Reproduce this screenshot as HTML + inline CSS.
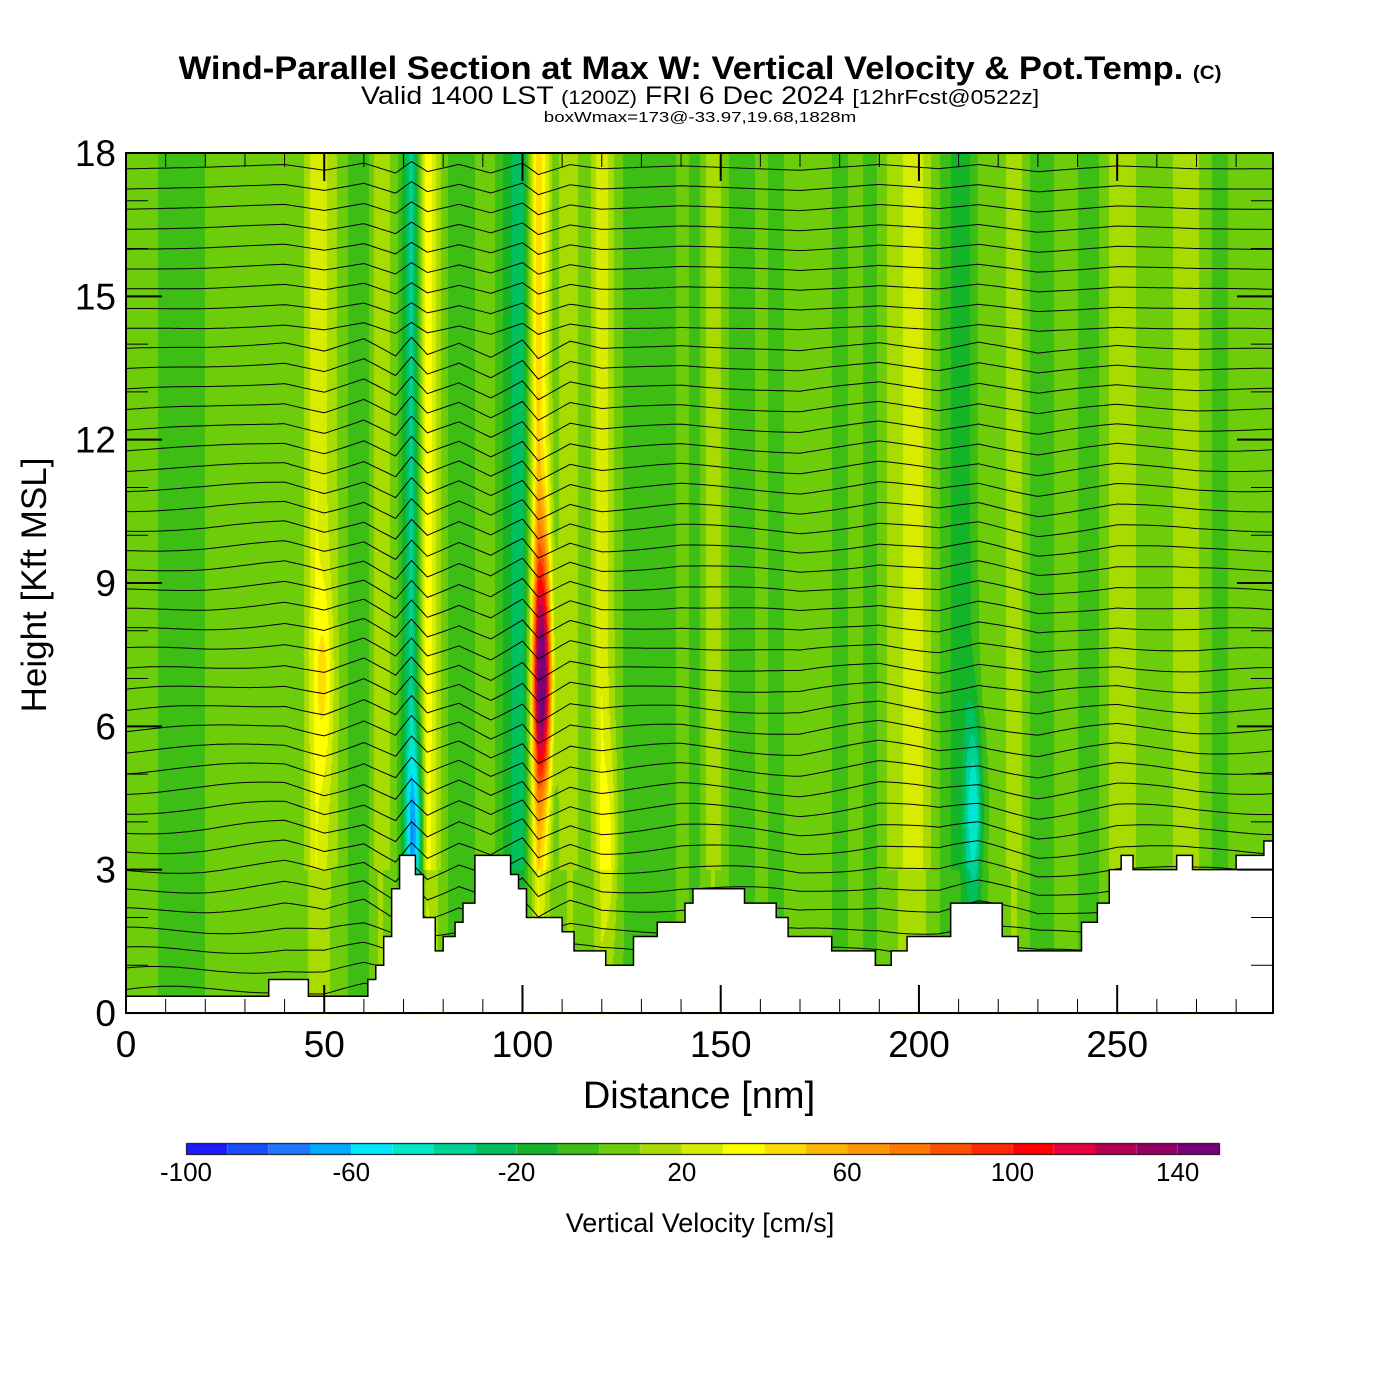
<!DOCTYPE html>
<html><head><meta charset="utf-8"><style>
body{margin:0;background:#fff;width:1400px;height:1400px;overflow:hidden;font-family:"Liberation Sans",sans-serif}
.t{position:absolute;white-space:nowrap;color:#000}
</style></head><body>
<div class="t" style="left:0;width:1400px;text-align:center;top:50px;font-size:32px;font-weight:bold;transform:scaleX(1.08)">Wind-Parallel Section at Max W: Vertical Velocity &amp; Pot.Temp. <span style="font-size:19px">(C)</span></div>
<div class="t" style="left:0;width:1400px;text-align:center;top:82px;font-size:25px;transform:scaleX(1.14)">Valid 1400 LST <span style="font-size:19px">(1200Z)</span> FRI 6 Dec 2024 <span style="font-size:20px">[12hrFcst@0522z]</span></div>
<div class="t" style="left:0;width:1400px;text-align:center;top:109px;font-size:15px;transform:scaleX(1.25)">boxWmax=173@-33.97,19.68,1828m</div>
<canvas id="cv" width="1400" height="1400" style="position:absolute;left:0;top:0"></canvas>
<svg id="sv" width="1400" height="1400" style="position:absolute;left:0;top:0"></svg>
<script>
// distances every 4 nm, 0..288
const stripeW=[5,5,0,-5,-5,0,0,5,0,5,8,5,30,15,0,-10,20,5,-35,40,5,-10,0,5,-15,-30,50,5,20,0,30,5,-10,0,-10,5,-5,20,0,-10,5,-5,5,0,5,-5,5,-5,10,20,25,5,-10,-15,5,0,20,0,-5,5,0,-5,10,20,5,0,10,20,5,-5,5,0,0];
const blobX=[105,105,73,214,50,122];
const blobZ=[6.8,9,3.8,4.2,7,3.5];
const blobAmp=[110,30,-45,-45,20,15];
const terrainX=[0,36,46,61,63,65,67,69,73,75,78,80,83,85,88,97,99,101,110,113,121,128,134,141,143,156,164,167,178,189,193,197,208,221,225,241,245,248,251,254,265,269,280,287,289.3];
const terrainZ=[0.35,0.7,0.35,0.7,1.0,1.6,2.6,3.3,2.9,2.0,1.3,1.6,1.9,2.3,3.3,2.9,2.6,2.0,1.7,1.3,1.0,1.6,1.9,2.3,2.6,2.3,2.0,1.6,1.3,1.0,1.3,1.6,2.3,1.6,1.3,1.9,2.3,3.0,3.3,3.0,3.3,3.0,3.3,3.6,3.6];
const dispX=[0,20,40,50,60,68,72,76,84,92,100,104,112,120,140,170,190,205,215,230,250,270,290];
const dispV=[0,0.05,0.15,-0.05,0.2,-0.15,0.25,-0.1,0.15,-0.15,0.2,-0.2,0.15,0,0.1,-0.05,0.15,0,0.15,-0.1,0.1,0,0];
const cbTicks=[-100,-60,-20,20,60,100,140];
const colors=["#1c1cff","#1a4cff","#1e78ff","#00aaff","#00e6ff","#00e6c8","#00d296","#00c060","#14b428","#3cbe14","#6ecd0a","#a8dc00","#d8ec00","#ffff00","#ffdc00","#ffb400","#ff9600","#ff7800","#ff5000","#ff2800","#ff0000","#e6003c","#b40050","#960064","#780078"];
const L=126,R=1273,T=153,B=1013,XMAX=289.3;
const sx=d=>L+(R-L)*d/XMAX, sy=z=>B-(B-T)*z/18;
function interp(xs,vs,x){if(x<=xs[0])return vs[0];for(let i=1;i<xs.length;i++){if(x<=xs[i]){const t=(x-xs[i-1])/(xs[i]-xs[i-1]);return vs[i-1]+t*(vs[i]-vs[i-1]);}}return vs[vs.length-1];}
function stripe(d){const i=d/4,i0=Math.min(Math.floor(i),stripeW.length-2),t=i-i0;return stripeW[i0]*(1-t)+stripeW[i0+1]*t;}
function w(d,z){let v=stripe(d)*(z<3?0.6:1);for(let k=0;k<blobX.length;k++){const dx=(d-blobX[k])/2.2,dz=(z-blobZ[k])/2;v+=blobAmp[k]*Math.exp(-dx*dx-dz*dz);}return v;}
function col(v){let i=Math.floor((v+100)/10);i=Math.max(0,Math.min(24,i));return colors[i];}
const c=document.getElementById('cv').getContext('2d');
for(let px=L;px<R;px++){const d=(px-L+0.5)/(R-L)*XMAX;for(let py=T;py<B;py+=3){const z=(B-py-1.5)/(B-T)*18;c.fillStyle=col(w(d,z));c.fillRect(px,py,1,3);}}
for(let i=0;i<25;i++){c.fillStyle=colors[i];c.fillRect(186+i*41.32,1143,41.32,11);}
c.strokeStyle="#000";c.lineWidth=1;c.strokeRect(186.5,1143.5,1033,11);
const NS="http://www.w3.org/2000/svg",sv=document.getElementById('sv');
function el(tag,a){const e=document.createElementNS(NS,tag);for(const k in a)e.setAttribute(k,a[k]);sv.appendChild(e);return e;}
for(let base=0.45;base<18;base+=0.42){let pts=[];for(let d=0;d<=XMAX;d+=1){const f=base<2?0.5:(base>14?0.6:1);const z=base+interp(dispX,dispV,d)*f+0.1*(1-base/18)*Math.sin(d/9+base);pts.push(sx(d).toFixed(1)+","+sy(z).toFixed(1));}
const p=el('polyline',{points:pts.join(' '),fill:'none',stroke:'#000','stroke-width':1});

}
let tp=[sx(0)+","+B];for(let i=0;i<terrainX.length-1;i++){tp.push(sx(terrainX[i])+","+sy(terrainZ[i]));tp.push(sx(terrainX[i+1])+","+sy(terrainZ[i]));}tp.push(R+","+B);
const tr=el('polygon',{points:tp.join(' '),fill:'#fff',stroke:'#000','stroke-width':1.5});


el('rect',{x:L,y:T,width:R-L,height:B-T,fill:'none',stroke:'#000','stroke-width':2});
for(let d=0;d<=XMAX;d+=10){const maj=d%50==0,l=maj?28:14;el('line',{x1:sx(d),x2:sx(d),y1:B,y2:B-l,stroke:'#000','stroke-width':maj?2:1});el('line',{x1:sx(d),x2:sx(d),y1:T,y2:T+l,stroke:'#000','stroke-width':maj?2:1});
if(maj){const t=el('text',{x:sx(d),y:1057,'font-size':37,'text-anchor':'middle'});t.textContent=d;}}
for(let z=0;z<=18;z++){const maj=z%3==0,l=maj?36:22;el('line',{x1:L,x2:L+l,y1:sy(z),y2:sy(z),stroke:'#000','stroke-width':maj?2:1});el('line',{x1:R,x2:R-l,y1:sy(z),y2:sy(z),stroke:'#000','stroke-width':maj?2:1});
if(maj){const t=el('text',{x:116,y:sy(z)+13,'font-size':37,'text-anchor':'end'});t.textContent=z;}}
let xt=el('text',{x:699,y:1108,'font-size':38,'text-anchor':'middle'});xt.textContent="Distance [nm]";
let yt=el('text',{x:46,y:585,'font-size':35,'text-anchor':'middle',transform:'rotate(-90 46 585)'});yt.textContent="Height [Kft MSL]";
for(const v of cbTicks){const t=el('text',{x:186+(v+100)*4.132,y:1181,'font-size':26,'text-anchor':'middle'});t.textContent=v;}
let ct=el('text',{x:700,y:1232,'font-size':27,'text-anchor':'middle'});ct.textContent="Vertical Velocity [cm/s]";
</script>
</body></html>
